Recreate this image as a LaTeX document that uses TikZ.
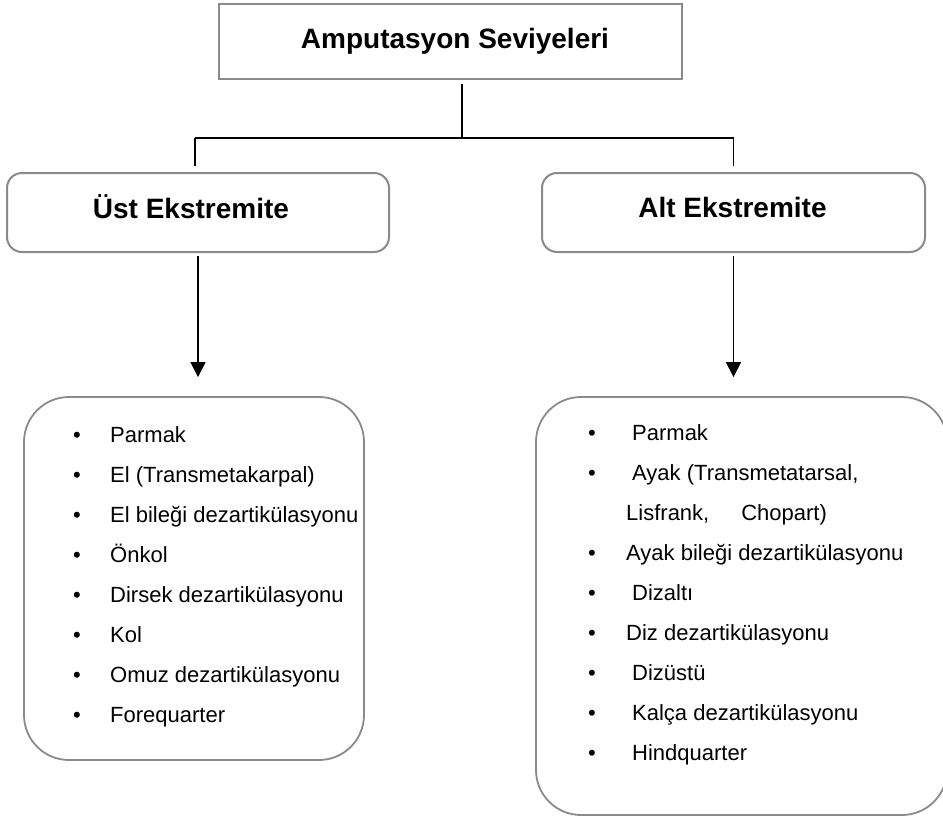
\documentclass[tikz,border=0pt]{standalone}
\usepackage{fontspec}
\setmainfont{Liberation Sans}
\usetikzlibrary{arrows.meta}
\definecolor{boxgray}{RGB}{138,138,142}
\begin{document}
\begin{tikzpicture}[x=1pt,y=-1pt,
  head/.style={font=\fontsize{28}{34}\selectfont\bfseries, anchor=base, inner sep=0pt},
  item/.style={font=\fontsize{22}{26}\selectfont, anchor=base west, inner sep=0pt},
  bul/.style={font=\fontsize{22}{26}\selectfont, anchor=base, inner sep=0pt},
  hbox/.style={draw=boxgray, line width=2pt, inner sep=0pt},
  lbox/.style={draw=boxgray, line width=1.8pt, inner sep=0pt, rounded corners=45pt},
  conn/.style={draw=black, line width=1.2pt},
  arr/.style={conn, -{Triangle[width=15pt,length=15pt]}}]
\useasboundingbox (0,0) rectangle (943,816);

% boxes
\node[hbox, minimum width=463pt, minimum height=75pt] (top) at (450.5,41.5) {};
\node[hbox, rounded corners=15pt, minimum width=382pt, minimum height=79pt] (ust) at (198,212.5) {};
\node[hbox, rounded corners=15pt, minimum width=383pt, minimum height=79pt] (alt) at (733.5,212.5) {};
\node[lbox, minimum width=340pt, minimum height=363pt] (ulist) at (194,578.5) {};
\node[lbox, minimum width=411pt, minimum height=418pt] (alist) at (741.5,606) {};

% headings
\node[head] (ttop) at (455,49) {Amputasyon Seviyeleri};
\node[head] (tust) at (191,218) {Üst Ekstremite};
\node[head] (talt) at (732.5,217) {Alt Ekstremite};

% connectors
\coordinate (j) at (462,138);
\coordinate (bl) at (195,138);
\coordinate (br) at (733.5,138);
\draw[conn, shorten <=4pt] (top.south -| j) -- (j);
\draw[conn] (bl) -- (br);
\draw[conn, shorten >=6pt] (bl) -- (bl |- ust.north);
\draw[conn, shorten >=6pt] (br) -- (br |- alt.north);
\draw[arr, shorten <=3pt, shorten >=19pt] (ust.south) -- (ust.south |- ulist.north);
\draw[arr, shorten <=3pt, shorten >=19pt] (alt.south) -- (alt.south |- alist.north);

% upper extremity list
\foreach \t [count=\i from 0] in {Parmak, El (Transmetakarpal), El bileği dezartikülasyonu, Önkol, Dirsek dezartikülasyonu, Kol, Omuz dezartikülasyonu, Forequarter}{
  \node[bul] (ub\i) at (77,442+40*\i) {•};
  \node[item] (ut\i) at (110,442+40*\i) {\t};
}

% lower extremity list
\node[bul] (ab0) at (592,440) {•};
\node[item] (at0) at (632,440) {Parmak};
\node[bul] (ab1) at (592,480) {•};
\node[item] (at1) at (632,480) {Ayak (Transmetatarsal,};
\node[item] (at2) at (626,520) {Lisfrank,\hspace{32pt}Chopart)};
\node[bul] (ab3) at (592,560) {•};
\node[item] (at3) at (626,560) {Ayak bileği dezartikülasyonu};
\node[bul] (ab4) at (592,600) {•};
\node[item] (at4) at (632,600) {Dizaltı};
\node[bul] (ab5) at (592,640) {•};
\node[item] (at5) at (626,640) {Diz dezartikülasyonu};
\node[bul] (ab6) at (592,680) {•};
\node[item] (at6) at (632,680) {Dizüstü};
\node[bul] (ab7) at (592,720) {•};
\node[item] (at7) at (632,720) {Kalça dezartikülasyonu};
\node[bul] (ab8) at (592,760) {•};
\node[item] (at8) at (632,760) {Hindquarter};
\end{tikzpicture}
\end{document}
